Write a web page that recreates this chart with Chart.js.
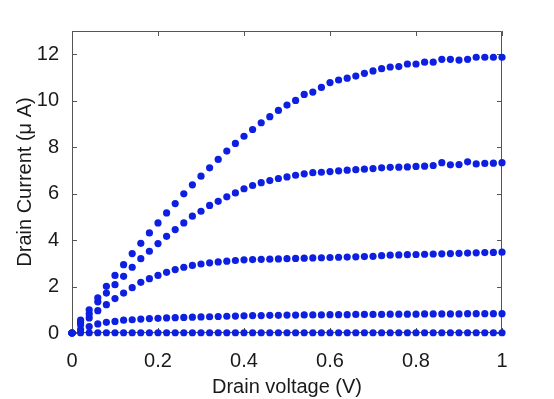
<!DOCTYPE html>
<html>
<head>
<meta charset="utf-8">
<script src="https://cdn.jsdelivr.net/npm/chart.js@4.4.1/dist/chart.umd.min.js"></script>
<style>
  html, body { margin: 0; padding: 0; background: #fff; }
  #wrap { width: 554px; height: 399px; position: relative; }
</style>
</head>
<body>
<div id="wrap"><canvas id="c"></canvas></div>
<script>
const voltages = [
  0, 0.02, 0.04, 0.06, 0.08, 0.10, 0.12, 0.14, 0.16, 0.18,
  0.20, 0.22, 0.24, 0.26, 0.28, 0.30, 0.32, 0.34, 0.36, 0.38,
  0.40, 0.42, 0.44, 0.46, 0.48, 0.50, 0.52, 0.54, 0.56, 0.58,
  0.60, 0.62, 0.64, 0.66, 0.68, 0.70, 0.72, 0.74, 0.76, 0.78,
  0.80, 0.82, 0.84, 0.86, 0.88, 0.90, 0.92, 0.94, 0.96, 0.98, 1.00
];

const currentA = [
  0, 0.55, 1.00, 1.51, 2.01, 2.48, 2.94, 3.42, 3.86, 4.31,
  4.74, 5.17, 5.57, 5.99, 6.38, 6.75, 7.11, 7.47, 7.83, 8.16,
  8.47, 8.76, 9.05, 9.31, 9.58, 9.81, 10.01, 10.27, 10.37, 10.57,
  10.78, 10.89, 10.97, 11.06, 11.18, 11.28, 11.38, 11.45, 11.47, 11.58,
  11.58, 11.66, 11.66, 11.78, 11.78, 11.75, 11.78, 11.87, 11.87, 11.87, 11.87
];

const currentB = [
  0, 0.45, 0.82, 1.34, 1.72, 2.08, 2.44, 2.83, 3.20, 3.52,
  3.85, 4.16, 4.45, 4.74, 5.03, 5.24, 5.49, 5.67, 5.86, 6.03,
  6.21, 6.35, 6.47, 6.56, 6.65, 6.72, 6.79, 6.85, 6.90, 6.92,
  6.95, 6.98, 7.01, 7.03, 7.05, 7.08, 7.11, 7.13, 7.14, 7.15,
  7.17, 7.18, 7.21, 7.33, 7.24, 7.25, 7.37, 7.28, 7.30, 7.31, 7.33
];

const currentC = [
  0, 0.35, 0.65, 0.96, 1.22, 1.48, 1.72, 1.95, 2.18, 2.34,
  2.48, 2.61, 2.73, 2.83, 2.91, 2.97, 3.02, 3.06, 3.09, 3.12,
  3.15, 3.16, 3.17, 3.18, 3.19, 3.20, 3.21, 3.22, 3.23, 3.24,
  3.25, 3.26, 3.27, 3.28, 3.29, 3.30, 3.33, 3.35, 3.36, 3.37,
  3.38, 3.39, 3.40, 3.41, 3.42, 3.43, 3.44, 3.45, 3.46, 3.47, 3.48
];

const currentD = [
  0, 0.15, 0.28, 0.39, 0.46, 0.50, 0.55, 0.57, 0.60, 0.62,
  0.63, 0.65, 0.66, 0.67, 0.68, 0.69, 0.70, 0.71, 0.72, 0.73,
  0.74, 0.75, 0.75, 0.76, 0.76, 0.77, 0.77, 0.78, 0.78, 0.78,
  0.79, 0.79, 0.79, 0.80, 0.80, 0.80, 0.80, 0.81, 0.81, 0.81,
  0.81, 0.82, 0.82, 0.82, 0.82, 0.82, 0.83, 0.83, 0.83, 0.83, 0.83
];

const currentE = [
  0, 0.01, 0.01, 0.01, 0.01, 0.01, 0.01, 0.01, 0.01, 0.01,
  0.01, 0.01, 0.01, 0.01, 0.01, 0.01, 0.01, 0.01, 0.01, 0.01,
  0.01, 0.01, 0.01, 0.01, 0.01, 0.01, 0.01, 0.01, 0.01, 0.01,
  0.01, 0.01, 0.01, 0.01, 0.01, 0.01, 0.01, 0.01, 0.01, 0.01,
  0.01, 0.01, 0.01, 0.01, 0.01, 0.01, 0.01, 0.01, 0.01, 0.01, 0.01
];

const xTicks = [0, 0.2, 0.4, 0.6, 0.8, 1];
const yTicks = [0, 2, 4, 6, 8, 10, 12];

const dotColor = "#0d1fe0";
const fontFamily = "'Liberation Sans', Arial, sans-serif";

function dotSet(values) {
  return {
    data: voltages.map((v, i) => ({ x: v, y: values[i] })),
    backgroundColor: dotColor,
    borderWidth: 0,
    pointRadius: 3.6,
    pointHoverRadius: 3.6,
    showLine: false,
    clip: false,
  };
}

// matlab style box with inward ticks
const boxAxes = {
  id: "boxAxes",
  beforeDatasetsDraw(chart) {
    const { ctx, chartArea: a, scales: { x, y } } = chart;
    ctx.save();
    ctx.strokeStyle = "#555";
    ctx.lineWidth = 1;
    ctx.beginPath();
    ctx.rect(a.left + 0.5, a.top + 0.5, a.right - a.left - 1, a.bottom - a.top - 1);
    const tl = 5;
    xTicks.forEach((t) => {
      const px = Math.round(x.getPixelForValue(t)) + 0.5;
      ctx.moveTo(px, a.bottom);
      ctx.lineTo(px, a.bottom - tl);
      ctx.moveTo(px, a.top);
      ctx.lineTo(px, a.top + tl);
    });
    yTicks.forEach((t) => {
      const py = Math.round(y.getPixelForValue(t)) + 0.5;
      ctx.moveTo(a.left, py);
      ctx.lineTo(a.left + tl, py);
      ctx.moveTo(a.right, py);
      ctx.lineTo(a.right - tl, py);
    });
    ctx.stroke();
    ctx.restore();
  },
};

new Chart(document.getElementById("c"), {
  type: "scatter",
  data: {
    datasets: [dotSet(currentA), dotSet(currentB), dotSet(currentC), dotSet(currentD), dotSet(currentE)],
  },
  options: {
    responsive: true,
    maintainAspectRatio: false,
    animation: false,
    layout: { padding: { top: 31, right: 52, left: 0, bottom: 0 } },
    plugins: { legend: { display: false }, tooltip: { enabled: false } },
    scales: {
      x: {
        type: "linear",
        min: 0,
        max: 1,
        afterFit: (s) => { s.height = 66; },
        afterBuildTicks: (s) => { s.ticks = xTicks.map((v) => ({ value: v })); },
        grid: { display: false },
        border: { display: false },
        ticks: {
          padding: 8,
          color: "#1a1a1a",
          font: { family: fontFamily, size: 20 },
          maxRotation: 0,
          callback: (v) => String(v),
        },
        title: {
          display: true,
          text: "Drain voltage (V)",
          color: "#1a1a1a",
          font: { family: fontFamily, size: 20 },
          padding: { top: 0, bottom: 0 },
        },
      },
      y: {
        type: "linear",
        min: 0,
        max: 13,
        afterFit: (s) => { s.width = 72; },
        afterBuildTicks: (s) => { s.ticks = yTicks.map((v) => ({ value: v })); },
        grid: { display: false },
        border: { display: false },
        ticks: {
          padding: 5,
          color: "#1a1a1a",
          font: { family: fontFamily, size: 20 },
          callback: (v) => String(v),
        },
        title: {
          display: true,
          text: "Drain Current (μ A)",
          color: "#1a1a1a",
          font: { family: fontFamily, size: 20 },
          padding: { top: 13, bottom: 0 },
        },
      },
    },
  },
  plugins: [boxAxes],
});
</script>
</body>
</html>
